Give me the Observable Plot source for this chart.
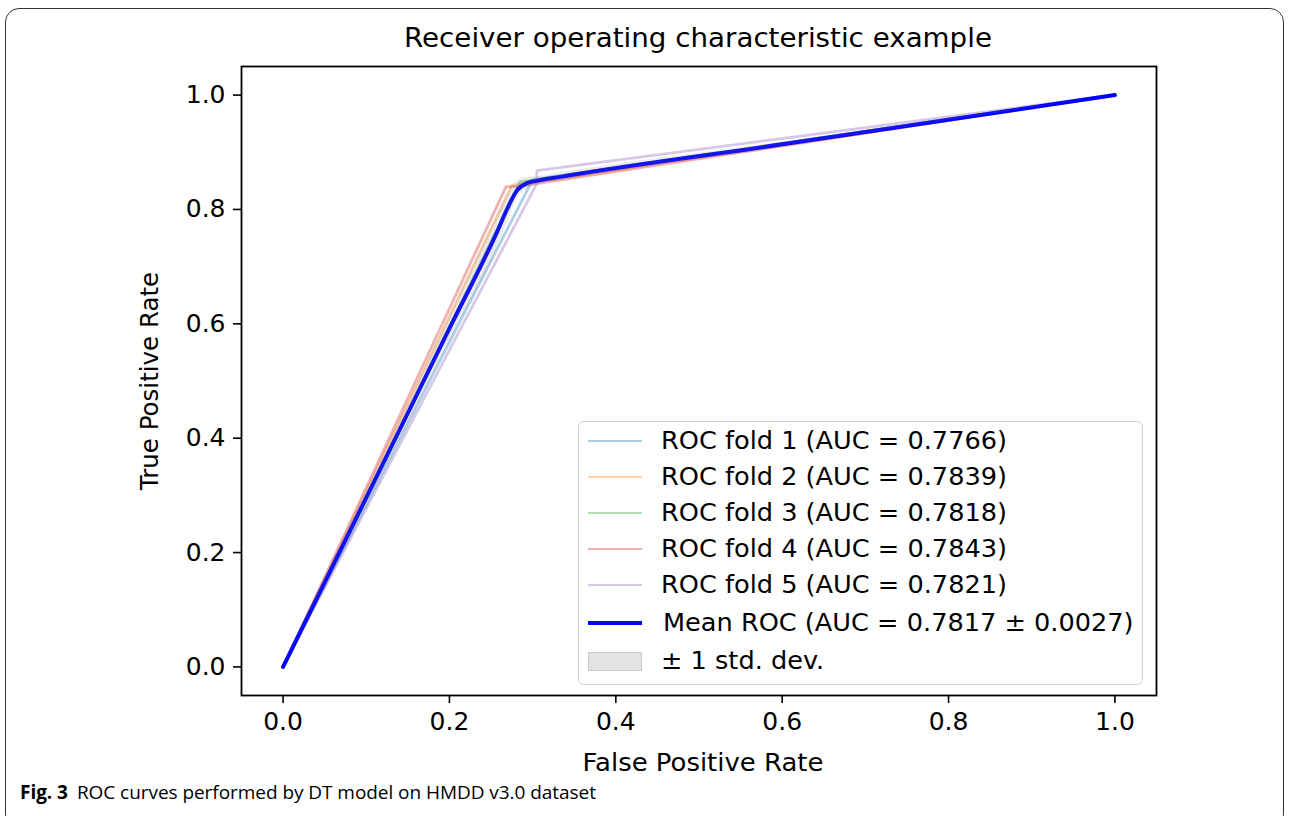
<!DOCTYPE html>
<html>
<head>
<meta charset="utf-8">
<script src="https://cdn.jsdelivr.net/npm/d3@7"></script>
<script src="https://cdn.jsdelivr.net/npm/@observablehq/plot@0.6"></script>
<style>
  html, body { margin: 0; padding: 0; background: #fff; }
  #wrap { position: relative; width: 1290px; height: 816px; overflow: hidden; background: #fff; font-family: "DejaVu Sans", sans-serif; color: #000; }
  #border { position: absolute; left: 5px; top: 8px; width: 1279px; height: 820px; border: 1.5px solid #333; border-radius: 14px; box-sizing: border-box; }
  #chart { position: absolute; left: 0; top: 0; }
  .lbl { position: absolute; white-space: nowrap; line-height: 1; }
  #title { left: 698px; top: 38px; transform: translate(-50%, -50%) scaleX(1.05); font-size: 26.4px; }
  #xlabel { left: 703px; top: 763px; transform: translate(-50%, -50%) scaleX(1.08); font-size: 24px; }
  #ylabel { left: 150px; top: 381px; transform: translate(-50%, -50%) rotate(-90deg); font-size: 24.5px; }
  #caption { left: 20px; top: 792px; transform: translateY(-50%); font-family: "Open Sans", sans-serif; font-size: 19px; letter-spacing: -0.05px; }
  #caption b { font-weight: 700; margin-right: 9px; }
  #legend { position: absolute; left: 578px; top: 421px; width: 565px; height: 264px; box-sizing: border-box; border: 1.5px solid #d0d0d0; border-radius: 6px; background: rgba(255,255,255,0.85); }
  .lrow { position: absolute; left: 0; height: 0; }
  .lsw { position: absolute; left: 9px; width: 54px; }
  .ltx { position: absolute; left: 82px; transform: translateY(-50%) scaleX(1.045); transform-origin: left center; font-size: 24.5px; white-space: nowrap; line-height: 1; }
</style>
</head>
<body>
<div id="wrap">
  <div id="border"></div>
  <div id="chart"></div>
  <div id="title" class="lbl">Receiver operating characteristic example</div>
  <div id="xlabel" class="lbl">False Positive Rate</div>
  <div id="ylabel" class="lbl">True Positive Rate</div>
  <div id="legend"></div>
  <div id="caption" class="lbl"><b>Fig. 3</b>ROC curves performed by DT model on HMDD v3.0 dataset</div>
</div>
<script>
// ---- data ----
const foldNames = ["ROC fold 1", "ROC fold 2", "ROC fold 3", "ROC fold 4", "ROC fold 5"];
const foldAUC = ["0.7766", "0.7839", "0.7818", "0.7843", "0.7821"];
const foldColors = ["#1f77b4", "#ff7f0e", "#2ca02c", "#d62728", "#9467bd"];
const fold1Fpr = [0, 0.300, 1];
const fold1Tpr = [0, 0.852, 1];
const fold2Fpr = [0, 0.275, 0.295, 1];
const fold2Tpr = [0, 0.842, 0.846, 1];
const fold3Fpr = [0, 0.285, 1];
const fold3Tpr = [0, 0.848, 1];
const fold4Fpr = [0, 0.268, 0.281, 1];
const fold4Tpr = [0, 0.840, 0.840, 1];
const fold5Fpr = [0, 0.305, 0.305, 1];
const fold5Tpr = [0, 0.845, 0.868, 1];
const meanFpr = [0, 0.100, 0.200, 0.257, 0.271, 0.281, 0.293, 0.305, 0.333, 0.600, 1];
const meanTpr = [0, 0.296, 0.592, 0.760, 0.806, 0.833, 0.846, 0.850, 0.857, 0.914, 1];
const meanStd = [0, 0.012, 0.022, 0.028, 0.024, 0.016, 0.010, 0.007, 0.007, 0.004, 0];
const meanLabel = "Mean ROC (AUC = 0.7817 \u00b1 0.0027)";
const stdLabel = "\u00b1 1 std. dev.";
const xTicks = [0, 0.2, 0.4, 0.6, 0.8, 1.0];
const yTicks = [0, 0.2, 0.4, 0.6, 0.8, 1.0];

// ---- build tables ----
const foldFprs = [fold1Fpr, fold2Fpr, fold3Fpr, fold4Fpr, fold5Fpr];
const foldTprs = [fold1Tpr, fold2Tpr, fold3Tpr, fold4Tpr, fold5Tpr];
const folds = foldFprs.map((f, i) => f.map((x, j) => ({fpr: x, tpr: foldTprs[i][j]})));
const meanData = meanFpr.map((x, i) => ({fpr: x, tpr: meanTpr[i], lo: Math.max(0, meanTpr[i] - meanStd[i]), hi: Math.min(1, meanTpr[i] + meanStd[i])}));

const fmt = d3.format(".1f");
const marks = [];
folds.forEach((d, i) => {
  marks.push(Plot.line(d, {x: "fpr", y: "tpr", stroke: foldColors[i], strokeOpacity: 0.36, strokeWidth: 2.8}));
});
marks.push(Plot.line(meanData, {x: "fpr", y: "tpr", stroke: "blue", strokeWidth: 4, curve: "monotone-x", strokeLinecap: "round", strokeLinejoin: "round"}));
marks.push(Plot.areaY(meanData, {x: "fpr", y1: "lo", y2: "hi", fill: "grey", fillOpacity: 0.16, curve: "monotone-x"}));
marks.push(Plot.axisX({ticks: xTicks, tickFormat: fmt, tickSize: 8, tickPadding: 9, label: null, fontSize: 25, strokeWidth: 1.6, stroke: "black"}));
marks.push(Plot.axisY({ticks: yTicks, tickFormat: fmt, tickSize: 8, tickPadding: 8, label: null, fontSize: 25, strokeWidth: 1.6, stroke: "black"}));
marks.push(Plot.frame({stroke: "black", strokeWidth: 1.8}));

const chart = Plot.plot({
  width: 1290,
  height: 816,
  marginLeft: 241,
  marginRight: 134,
  marginTop: 66,
  marginBottom: 121,
  x: {domain: [-0.05, 1.05]},
  y: {domain: [-0.05, 1.05]},
  style: {fontFamily: "DejaVu Sans", fontSize: "25px", color: "black", background: "transparent", overflow: "visible"},
  marks
});
document.getElementById("chart").appendChild(chart);

// ---- legend ----
const legend = document.getElementById("legend");
const rowsY = [19, 55, 91, 127, 163, 201, 239];
const entries = foldNames.map((n, i) => ({text: `${n} (AUC = ${foldAUC[i]})`, type: "line", color: foldColors[i], opacity: 0.36, w: 2.6}));
entries.push({text: meanLabel, type: "line", color: "blue", opacity: 1, w: 3.8});
entries.push({text: stdLabel, type: "patch", color: "grey", opacity: 0.2});
entries.forEach((e, i) => {
  const row = document.createElement("div");
  row.className = "lrow";
  row.style.top = rowsY[i] + "px";
  const sw = document.createElement("div");
  sw.className = "lsw";
  if (e.type === "line") {
    sw.style.height = e.w + "px";
    sw.style.top = (-e.w / 2) + "px";
    sw.style.background = e.color;
    sw.style.opacity = e.opacity;
  } else {
    sw.style.height = "19px";
    sw.style.top = "-9px";
    sw.style.background = "rgba(128,128,128,0.22)";
    sw.style.border = "1px solid rgba(128,128,128,0.25)";
    sw.style.boxSizing = "border-box";
  }
  const tx = document.createElement("div");
  tx.className = "ltx";
  if (i === 5) tx.style.left = "84px";
  tx.textContent = e.text;
  row.appendChild(sw);
  row.appendChild(tx);
  legend.appendChild(row);
});
</script>
</body>
</html>
